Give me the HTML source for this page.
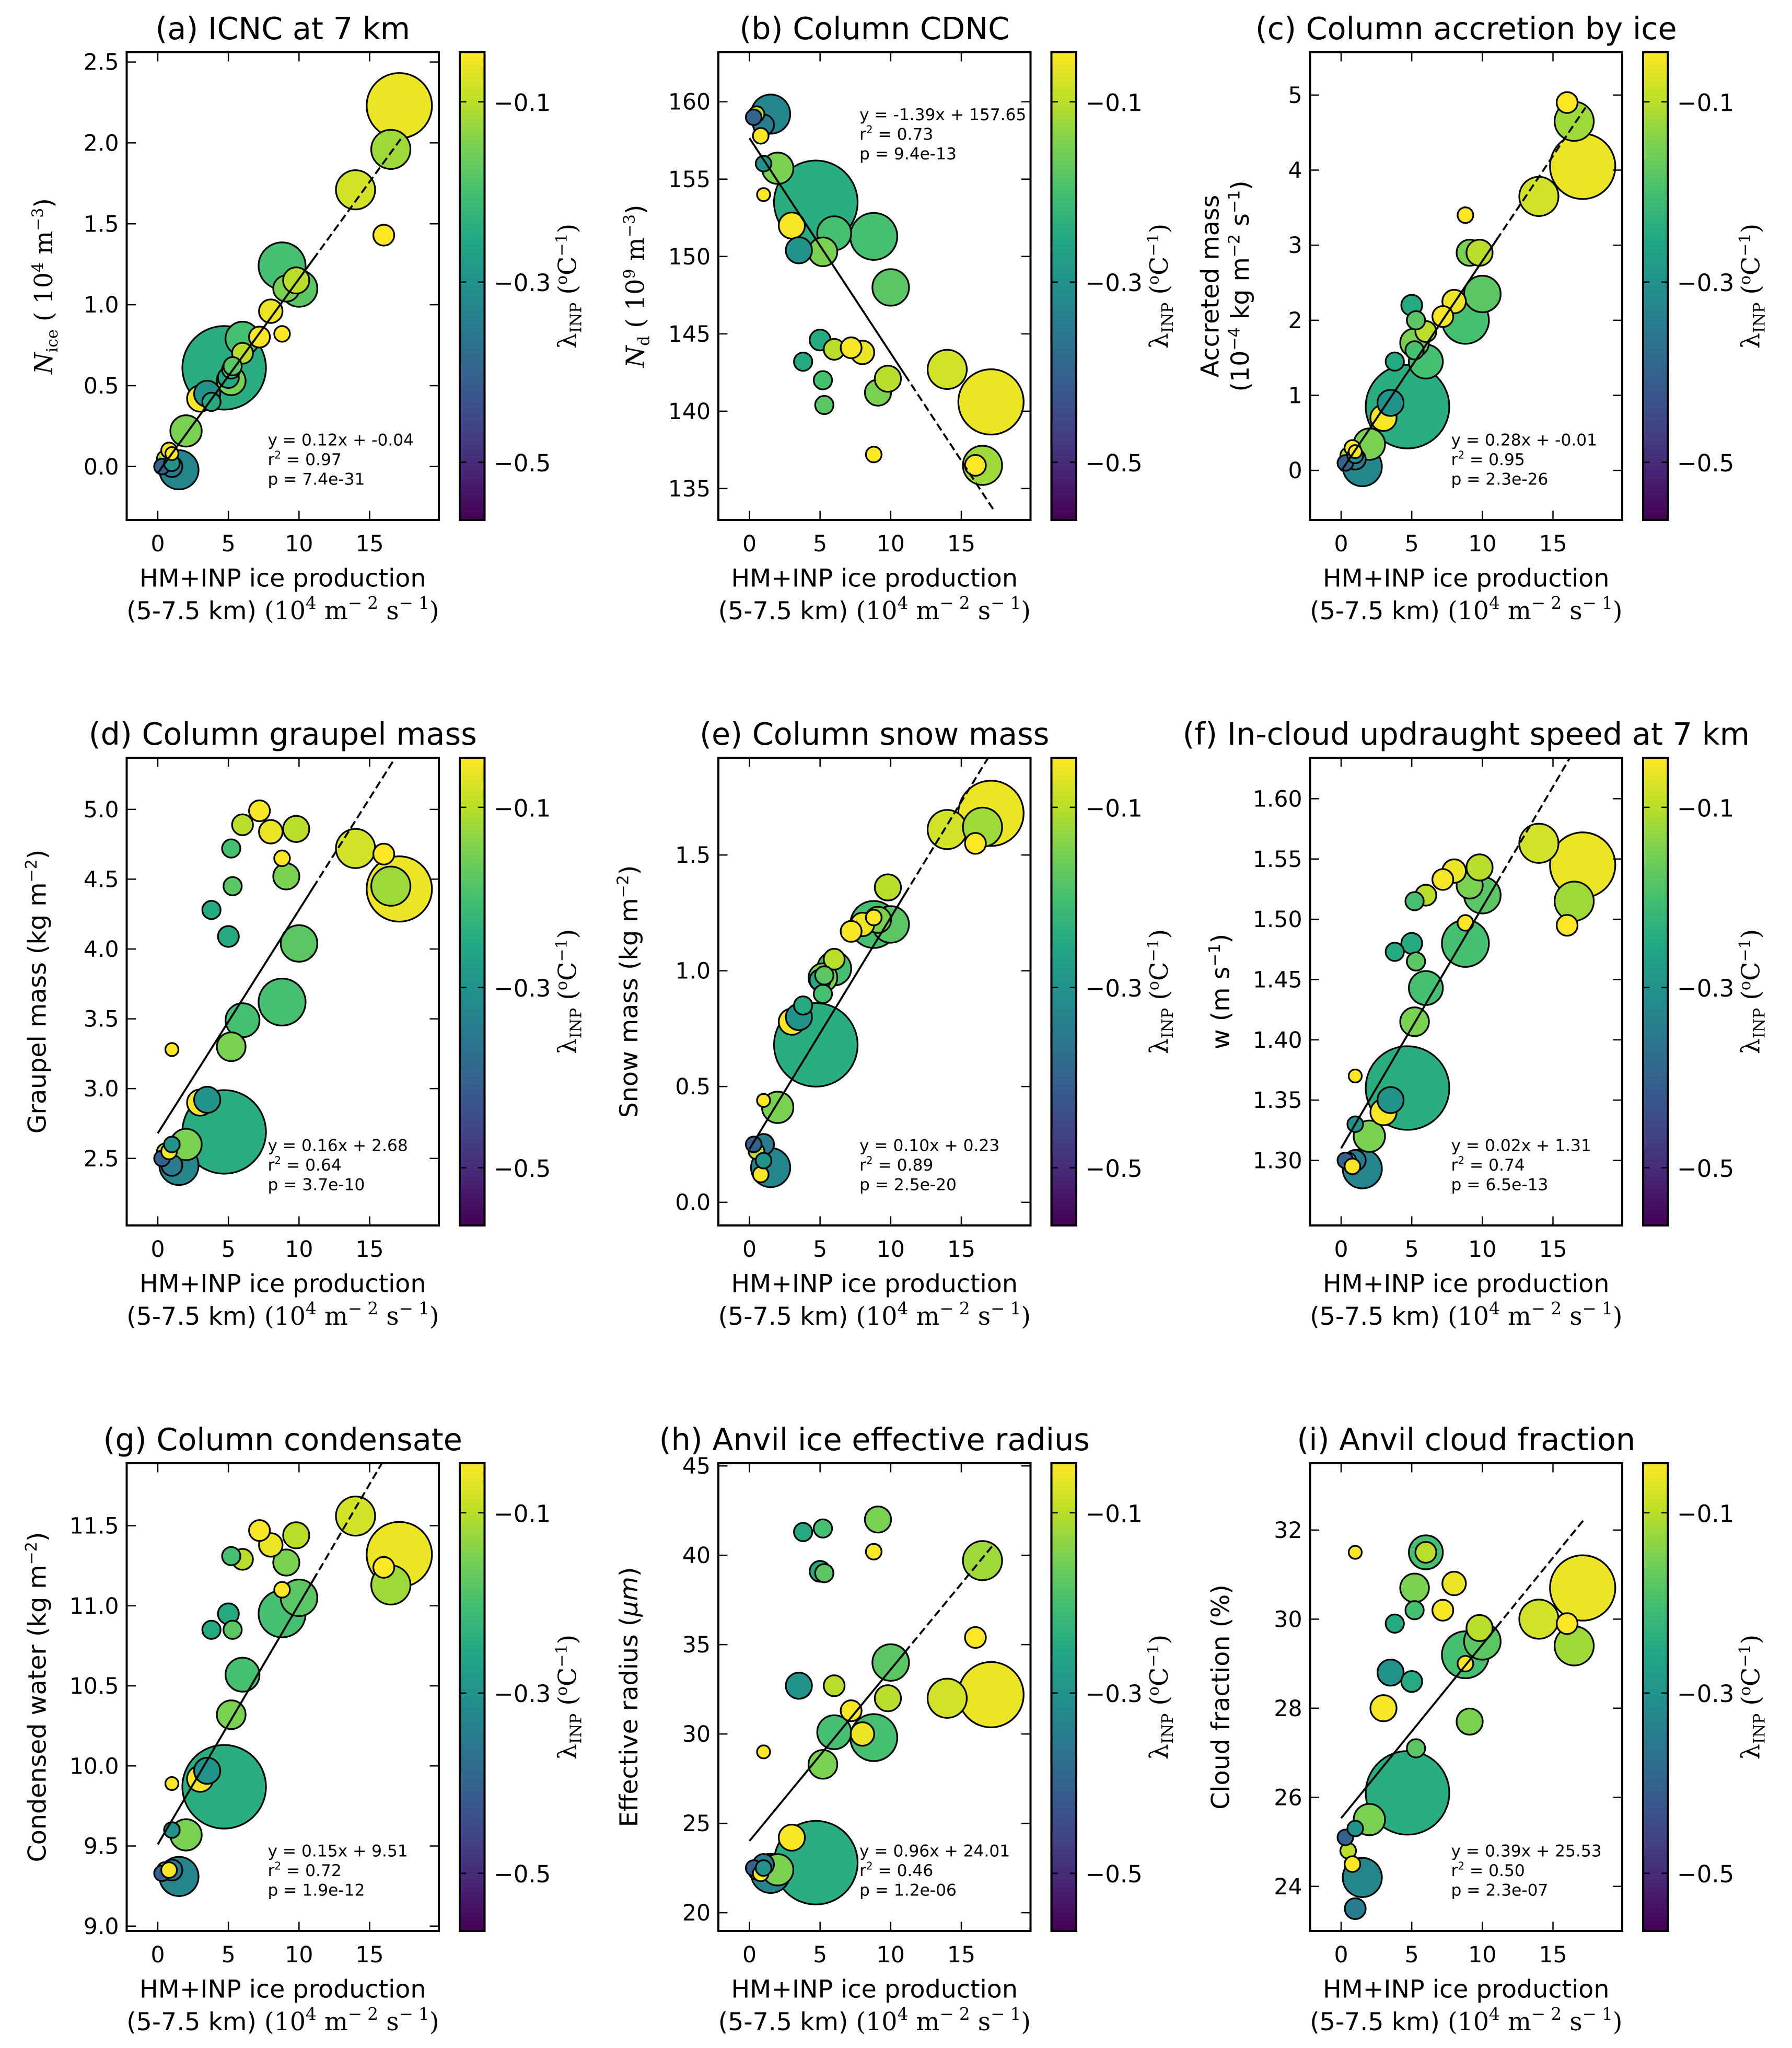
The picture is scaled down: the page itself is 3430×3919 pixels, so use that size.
<!DOCTYPE html>
<html><head><meta charset="utf-8">
<style>
html,body{margin:0;padding:0;background:#fff;}
svg{display:block;font-family:"DejaVu Sans","Liberation Sans",sans-serif;}
</style></head>
<body>
<svg id="fig" width="3430" height="3919" viewBox="0 0 1372 1567.6" xmlns="http://www.w3.org/2000/svg">
<defs>
<linearGradient id="viridis" x1="0" y1="1" x2="0" y2="0">
<stop offset="0" stop-color="#440154"/><stop offset="0.1" stop-color="#482475"/>
<stop offset="0.2" stop-color="#414487"/><stop offset="0.3" stop-color="#355f8d"/>
<stop offset="0.4" stop-color="#2a788e"/><stop offset="0.5" stop-color="#21918c"/>
<stop offset="0.6" stop-color="#22a884"/><stop offset="0.7" stop-color="#44bf70"/>
<stop offset="0.8" stop-color="#7ad151"/><stop offset="0.9" stop-color="#bddf26"/>
<stop offset="1" stop-color="#fde725"/>
</linearGradient>
</defs>
</svg>
<script>
// shared per-point data
const xProd = [1.5,0.5,0.3,0.8,1.0,1.0,2.0,1.0,3.0,4.7,3.5,5.2,6.0,8.8,10,3.8,5.0,5.2,5.3,6.0,7.2,8.0,9.1,9.8,8.8,14,16.5,16,17.1];
const lamInp = [-0.33,-0.1,-0.4,-0.05,-0.35,-0.3,-0.15,-0.03,-0.05,-0.24,-0.3,-0.15,-0.2,-0.2,-0.18,-0.25,-0.25,-0.2,-0.18,-0.1,-0.05,-0.06,-0.15,-0.1,-0.04,-0.08,-0.12,-0.03,-0.06];
const sizes = [15,6,6,6,8,6,12,5,10,32,10,11,13,18,14,7,8,7,7,8,8,9,10,10,6,15,15,8,25];
const yA = [-0.02,0.05,0.0,0.1,0.0,0.02,0.22,0.08,0.42,0.61,0.45,0.53,0.79,1.24,1.1,0.4,0.55,0.6,0.62,0.7,0.8,0.96,1.1,1.15,0.82,1.71,1.96,1.43,2.23];
const yB = [159.2,159.2,159,157.8,158.5,156,155.7,154,152,153.5,150.4,150.3,151.5,151.3,148,143.2,144.6,142,140.4,144,144.1,143.8,141.2,142.1,137.2,142.7,136.5,136.5,140.6];
const yC = [0.05,0.2,0.1,0.3,0.15,0.2,0.35,0.25,0.7,0.85,0.9,1.7,1.45,2.0,2.35,1.45,2.2,1.6,2.0,1.85,2.05,2.25,2.9,2.9,3.4,3.65,4.65,4.9,4.05];
const yD = [2.45,2.55,2.5,2.55,2.45,2.6,2.6,3.28,2.9,2.69,2.92,3.3,3.49,3.62,4.04,4.28,4.09,4.72,4.45,4.89,4.99,4.84,4.52,4.86,4.65,4.72,4.45,4.68,4.43];
const yE = [0.15,0.22,0.25,0.12,0.25,0.18,0.41,0.44,0.78,0.68,0.8,0.97,1.01,1.2,1.2,0.85,0.96,0.9,0.98,1.05,1.17,1.2,1.22,1.36,1.23,1.61,1.62,1.55,1.68];
const yF = [1.293,1.30,1.30,1.295,1.30,1.33,1.32,1.37,1.34,1.36,1.35,1.415,1.443,1.48,1.52,1.473,1.48,1.515,1.465,1.52,1.533,1.54,1.528,1.543,1.497,1.563,1.515,1.495,1.545];
const yG = [9.31,9.35,9.33,9.35,9.35,9.6,9.57,9.89,9.92,9.87,9.97,10.32,10.57,10.95,11.05,10.85,10.95,11.31,10.85,11.29,11.47,11.38,11.27,11.44,11.1,11.56,11.13,11.24,11.32];
const yH = [22.2,22.3,22.5,22.2,22.7,22.5,22.4,29.0,24.2,22.8,32.7,28.3,30.1,29.8,34.0,41.3,39.1,41.5,39.0,32.7,31.3,30.0,42.0,32.0,40.2,32.0,39.7,35.4,32.2];
const yI = [24.2,24.8,25.1,24.5,23.5,25.3,25.5,31.5,28.0,26.1,28.8,30.7,31.5,29.2,29.5,29.9,28.6,30.2,27.1,31.5,30.2,30.8,27.7,29.8,29.0,30.0,29.4,29.9,30.7];
const panelTitles = ["(a) ICNC at 7 km","(b) Column CDNC","(c) Column accretion by ice","(d) Column graupel mass","(e) Column snow mass","(f) In-cloud updraught speed at 7 km","(g) Column condensate","(h) Anvil ice effective radius","(i) Anvil cloud fraction"];
const fitText = [["y = 0.12x + -0.04","0.97","7.4e-31"],["y = -1.39x + 157.65","0.73","9.4e-13"],["y = 0.28x + -0.01","0.95","2.3e-26"],["y = 0.16x + 2.68","0.64","3.7e-10"],["y = 0.10x + 0.23","0.89","2.5e-20"],["y = 0.02x + 1.31","0.74","6.5e-13"],["y = 0.15x + 9.51","0.72","1.9e-12"],["y = 0.96x + 24.01","0.46","1.2e-06"],["y = 0.39x + 25.53","0.50","2.3e-07"]];
const fitSlope = [0.12,-1.39,0.28,0.16,0.10,0.02,0.15,0.96,0.39];
const fitIntercept = [-0.04,157.65,-0.01,2.68,0.23,1.31,9.51,24.01,25.53];
const yTicks = [[0,0.5,1,1.5,2,2.5],[135,140,145,150,155,160],[0,1,2,3,4,5],[2.5,3,3.5,4,4.5,5],[0,0.5,1,1.5],[1.30,1.35,1.40,1.45,1.50,1.55,1.60],[9,9.5,10,10.5,11,11.5],[20,25,30,35,40,45],[24,26,28,30,32]];
const yTickDec = [1,0,0,1,1,2,1,0,0];
const yRanges = [[-0.33,2.56],[132.97,163.2],[-0.66,5.57],[2.02,5.37],[-0.10,1.92],[1.246,1.634],[8.97,11.89],[18.98,45.15],[23.0,33.5]];
const xTicks = [0,5,10,15];
const cbTicks = [-0.1,-0.3,-0.5];
const allY = [yA,yB,yC,yD,yE,yF,yG,yH,yI];

const NS="http://www.w3.org/2000/svg";
const svg=document.getElementById('fig');
function mk(tag,attrs,parent){const e=document.createElementNS(NS,tag);for(const k in attrs)e.setAttribute(k,attrs[k]);(parent||svg).appendChild(e);return e;}
const vir=["#440154","#482475","#414487","#355f8d","#2a788e","#21918c","#22a884","#44bf70","#7ad151","#bddf26","#fde725"];
function hex(h){return [1,3,5].map(i=>parseInt(h.substr(i,2),16));}
function cmap(l){let t=(l+0.564)/0.519;t=Math.max(0,Math.min(1,t));const f=t*10,i=Math.min(9,Math.floor(f)),u=f-i;const a=hex(vir[i]),b=hex(vir[i+1]);return 'rgb('+a.map((v,k)=>Math.round(v+(b[k]-v)*u)).join(',')+')';}
const XMIN=-2.2,XMAX=19.9,CBMIN=-0.564,CBMAX=-0.045;
const colX=[97,550,1003],rowY=[40,580,1120],W=239,H=358;
const yLabels=[
 ['<tspan font-family="DejaVu Serif" font-style="italic">N</tspan><tspan font-family="DejaVu Serif" font-size="12" dy="4">ice</tspan><tspan font-family="DejaVu Serif" dy="-4"> ( 10</tspan><tspan font-family="DejaVu Serif" font-size="12" dy="-7">4</tspan><tspan font-family="DejaVu Serif" dy="7"> m</tspan><tspan font-family="DejaVu Serif" font-size="12" dy="-7">−3</tspan><tspan dy="7">)</tspan>'],
 ['<tspan font-family="DejaVu Serif" font-style="italic">N</tspan><tspan font-family="DejaVu Serif" font-size="12" dy="4">d</tspan><tspan font-family="DejaVu Serif" dy="-4"> ( 10</tspan><tspan font-family="DejaVu Serif" font-size="12" dy="-7">9</tspan><tspan font-family="DejaVu Serif" dy="7"> m</tspan><tspan font-family="DejaVu Serif" font-size="12" dy="-7">−3</tspan><tspan dy="7">)</tspan>'],
 ['Accreted mass','(10<tspan font-size="12" dy="-7">−4</tspan><tspan dy="7"> kg  m</tspan><tspan font-size="12" dy="-7">−2</tspan><tspan dy="7"> s</tspan><tspan font-size="12" dy="-7">−1</tspan><tspan dy="7">)</tspan>'],
 ['Graupel mass  (kg  m<tspan font-size="12" dy="-7">−2</tspan><tspan dy="7">)</tspan>'],
 ['Snow mass  (kg  m<tspan font-size="12" dy="-7">−2</tspan><tspan dy="7">)</tspan>'],
 ['w  (m  s<tspan font-size="12" dy="-7">−1</tspan><tspan dy="7">)</tspan>'],
 ['Condensed water  (kg  m<tspan font-size="12" dy="-7">−2</tspan><tspan dy="7">)</tspan>'],
 ['Effective radius  (<tspan font-style="italic">μm</tspan>)'],
 ['Cloud fraction (%)']
];
for(let p=0;p<9;p++){
  const x0=colX[p%3],y0=rowY[Math.floor(p/3)];
  const g=mk('g',{});
  
  
  const [ymin,ymax]=yRanges[p];
  const sx=v=>x0+(v-XMIN)/(XMAX-XMIN)*W;
  const sy=v=>y0+H-(v-ymin)/(ymax-ymin)*H;
  const t=mk('text',{x:x0+W/2,y:y0-10,'text-anchor':'middle','font-size':23.5},g);t.textContent=panelTitles[p];
  
  const clip=mk('clipPath',{id:'c'+p},g);mk('rect',{x:x0,y:y0,width:W,height:H},clip);
  const pts=mk('g',{'clip-path':'url(#c'+p+')'},g);
  const order=xProd.map((_,i)=>i).sort((a,b)=>sizes[b]-sizes[a]);
  for(const i of order){
    const c=mk('circle',{cx:sx(xProd[i]),cy:sy(allY[p][i]),r:sizes[i],fill:cmap(lamInp[i]),stroke:'#000','stroke-width':1.3},pts);
    
    
  }
  const fx=v=>fitSlope[p]*v+fitIntercept[p];
  const l1=mk('line',{x1:sx(0),y1:sy(fx(0)),x2:sx(11),y2:sy(fx(11)),stroke:'#000','stroke-width':1.5},pts);
  
  const l2=mk('line',{x1:sx(11),y1:sy(fx(11)),x2:sx(17.3),y2:sy(fx(17.3)),stroke:'#000','stroke-width':1.5,'stroke-dasharray':'6,3'},pts);
  
  const fr=mk('rect',{x:x0,y:y0,width:W,height:H,fill:'none',stroke:'#000','stroke-width':1.6},g);
  
  for(const v of xTicks){const X=sx(v);mk('line',{x1:X,y1:y0+H,x2:X,y2:y0+H-7,stroke:'#000','stroke-width':1},g);mk('line',{x1:X,y1:y0,x2:X,y2:y0+7,stroke:'#000','stroke-width':1},g);
    const tl=mk('text',{x:X,y:y0+H+24,'text-anchor':'middle','font-size':17},g);tl.textContent=v;}
  for(const v of yTicks[p]){const Y=sy(v);mk('line',{x1:x0,y1:Y,x2:x0+7,y2:Y,stroke:'#000','stroke-width':1},g);mk('line',{x1:x0+W,y1:Y,x2:x0+W-7,y2:Y,stroke:'#000','stroke-width':1},g);
    const tl=mk('text',{x:x0-6,y:Y+6,'text-anchor':'end','font-size':17},g);tl.textContent=v.toFixed(yTickDec[p]);}
  const top=(p===1);const sy0=top?y0+52:y0+H-57;
  const st=mk('text',{x:x0+108,y:sy0,'font-size':12.5},g);
  
  st.innerHTML='<tspan x="'+(x0+108)+'">'+fitText[p][0]+'</tspan><tspan x="'+(x0+108)+'" dy="15">r<tspan font-size="8" dy="-5">2</tspan><tspan dy="5"> = '+fitText[p][1]+'</tspan></tspan><tspan x="'+(x0+108)+'" dy="15">p = '+fitText[p][2]+'</tspan>';
  const xl=mk('text',{x:x0+W/2,y:y0+H+51,'text-anchor':'middle','font-size':19},g);xl.textContent='HM+INP ice production';
  
  const xl2=mk('text',{x:x0+W/2,y:y0+H+76,'text-anchor':'middle','font-size':19},g);
  xl2.innerHTML='(5-7.5 km)  <tspan font-family="DejaVu Serif">(10<tspan font-size="13" dy="-8">4</tspan><tspan dy="8"> m</tspan><tspan font-size="13" dy="-8">− 2</tspan><tspan dy="8"> s</tspan><tspan font-size="13" dy="-8">− 1</tspan><tspan dy="8">)</tspan></tspan>';
  
  const lines=yLabels[p];
  lines.forEach((s,k)=>{const lx=x0-(lines.length>1?(k===0?70:47):(p===1||p===0?57:62));
    const yl=mk('text',{x:0,y:0,'text-anchor':'middle','font-size':19,transform:'translate('+lx+','+(y0+H/2)+') rotate(-90)'},g);
    yl.innerHTML=s;});
  const cx=x0+255,cw=19;
  const cb=mk('rect',{x:cx,y:y0,width:cw,height:H,fill:'url(#viridis)',stroke:'#000','stroke-width':1.6},g);
  
  const cy=v=>y0+H-(v-CBMIN)/(CBMAX-CBMIN)*H;
  for(const v of cbTicks){const Y=cy(v);mk('line',{x1:cx,y1:Y,x2:cx+5,y2:Y,stroke:'#000','stroke-width':1},g);mk('line',{x1:cx+cw,y1:Y,x2:cx+cw-5,y2:Y,stroke:'#000','stroke-width':1},g);
    const tl=mk('text',{x:cx+cw+7,y:Y+7,'font-size':18},g);tl.textContent='−'+Math.abs(v).toFixed(1);}
  const cl=mk('text',{x:0,y:0,'text-anchor':'middle','font-size':19,'font-family':'DejaVu Serif',transform:'translate('+(cx+cw+70)+','+(y0+H/2)+') rotate(-90)'},g);
  cl.innerHTML='λ<tspan font-size="12" dy="4">INP</tspan><tspan dy="-4"> (</tspan><tspan font-size="12" dy="-7">o</tspan><tspan dy="7">C</tspan><tspan font-size="12" dy="-7">−1</tspan><tspan dy="7">)</tspan>';
  
}
</script>
</body></html>
